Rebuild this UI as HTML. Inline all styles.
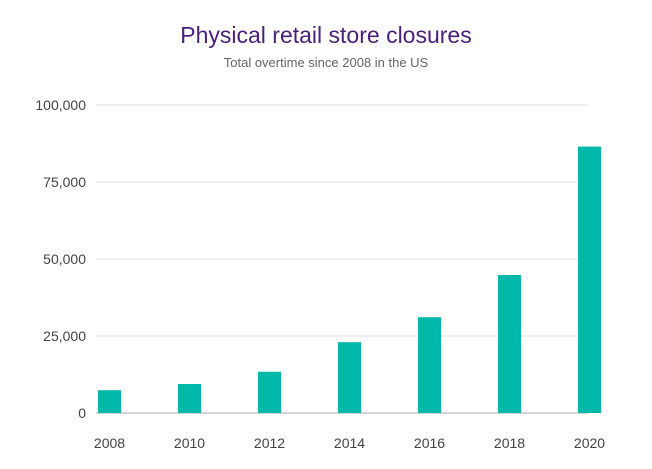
<!DOCTYPE html>
<html><head><meta charset="utf-8"><style>
body{margin:0;background:#fff;font-family:"Liberation Sans",sans-serif;}
svg{display:block}
</style></head><body>
<svg id="chart" width="652" height="469">
<text x="326" y="43" text-anchor="middle" font-size="23" fill="#4a1f7c">Physical retail store closures</text>
<text x="326" y="67" text-anchor="middle" font-size="13" fill="#666">Total overtime since 2008 in the US</text>
<g id="grid"></g><g id="bars"></g><g id="labels"></g>
</svg>
<script>
const categories=["2008","2010","2012","2014","2016","2018","2020"];
const values=[7400,9400,13400,23000,31100,44800,86500];
const yTicks=[0,25000,50000,75000,100000];
const yTickLabels=["0","25,000","50,000","75,000","100,000"];
const NS="http://www.w3.org/2000/svg";
const y=v=>413-v/100000*308;
const x=i=>109.5+i*80;
function mk(t,a,p){const e=document.createElementNS(NS,t);for(const k in a)e.setAttribute(k,a[k]);p.appendChild(e);return e;}
const grid=document.getElementById('grid'),bars=document.getElementById('bars'),labels=document.getElementById('labels');
yTicks.forEach((v,i)=>{
  const l=mk('line',{x1:96,x2:588,y1:y(v),y2:y(v),stroke:v===0?'#aaa':'#e2e2e2','stroke-width':1},grid);
  
  
  const t=mk('text',{x:86,y:y(v)+5,'text-anchor':'end','font-size':14,fill:'#444'},labels);
  t.textContent=yTickLabels[i];
  
  
});
categories.forEach((c,i)=>{
  const r=mk('rect',{x:x(i)-11.5,y:y(values[i]),width:23,height:413-y(values[i]),fill:'#00b8a9'},bars);
  
  
  const t=mk('text',{x:x(i),y:448,'text-anchor':'middle','font-size':14,fill:'#444'},labels);
  t.textContent=c;
  
  
});
</script>
</body></html>
